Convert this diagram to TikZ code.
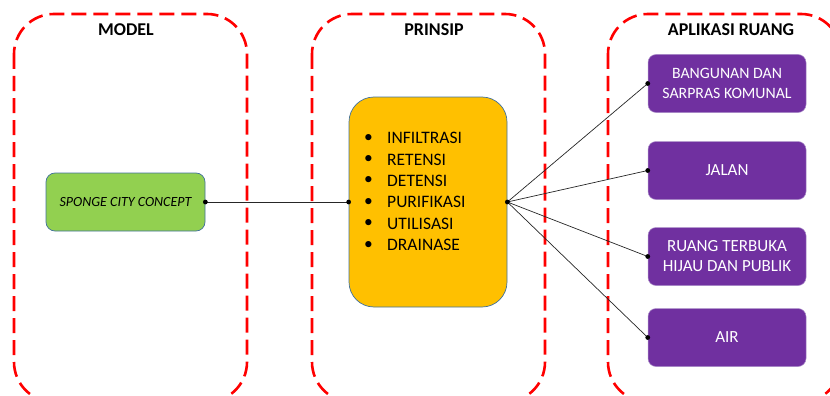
\documentclass[tikz,border=0pt]{standalone}
\usepackage{fontspec}
\setmainfont{Carlito}
\definecolor{zoneRed}{RGB}{255,0,0}
\definecolor{modelGreen}{RGB}{146,208,80}
\definecolor{prinOrange}{RGB}{255,192,0}
\definecolor{appPurple}{RGB}{112,48,160}
\definecolor{edgeBlue}{RGB}{65,113,156}
\definecolor{edgeLilac}{RGB}{170,140,200}
\begin{document}
\begin{tikzpicture}[x=1pt,y=-1pt,
  zone/.style={draw=zoneRed,line width=2.6pt,dash pattern=on 15pt off 7pt,rounded corners=40pt},
  zonetitle/.style={font=\fontsize{18}{21}\selectfont\bfseries,text=black},
  modelbox/.style={draw=edgeBlue,line width=0.7pt,fill=modelGreen,rounded corners=9pt,
    minimum width=159pt,minimum height=58pt,inner sep=0pt,
    font=\fontsize{14}{16}\selectfont\itshape},
  prinbox/.style={draw=edgeBlue,line width=0.7pt,fill=prinOrange,rounded corners=25pt,
    minimum width=158pt,minimum height=210pt,inner sep=0pt},
  prinitem/.style={anchor=west,font=\fontsize{17.5}{20}\selectfont,inner sep=0pt},
  appbox/.style={draw=edgeLilac,line width=0.5pt,fill=appPurple,rounded corners=8pt,
    minimum width=158pt,minimum height=58pt,inner sep=0pt,align=center,text=white,
    font=\fontsize{17}{20}\selectfont},
  smallapp/.style={font=\fontsize{15.8}{20}\selectfont},
  link/.style={draw=black!85,line width=0.7pt},
  joint/.style={fill=black}
]
\useasboundingbox (0,0) rectangle (830,396);
\clip (0,0) rectangle (830,396);

% dashed zones
\draw[zone] (14,14) rectangle (247,402);
\draw[zone] (312,14) rectangle (545,402);
\draw[zone] (608,14) rectangle (841,402);

% zone titles
\node[zonetitle] (tModel) at (126,30) {MODEL};
\node[zonetitle] (tPrinsip) at (434,30) {PRINSIP};
\node[zonetitle] (tApp) at (731,30) {APLIKASI RUANG};

% model
\node[modelbox] (model) at (125.5,202) {SPONGE CITY CONCEPT};

% principles
\node[prinbox] (prin) at (428,202) {};
\foreach \t [count=\i] in {INFILTRASI,RETENSI,DETENSI,PURIFIKASI,UTILISASI,DRAINASE}{
  \node[prinitem] (b\i) at (364,{138+21.4*(\i-1)}) {\textbullet};
  \node[prinitem] (p\i) at (387,{138+21.4*(\i-1)}) {\t};
}

% applications
\node[appbox,smallapp] (a1) at (727,83.5) {BANGUNAN DAN\\SARPRAS KOMUNAL};
\node[appbox] (a2) at (727,170.5) {JALAN};
\node[appbox] (a3) at (727,256.5) {RUANG TERBUKA\\HIJAU DAN PUBLIK};
\node[appbox] (a4) at (727,337.5) {AIR};

% connectors
\draw[link] (model.east) -- (prin.west);
\foreach \k in {1,...,4}{
  \draw[link] (prin.east) -- (a\k.west);
  \fill[joint] (a\k.west) circle (2.4pt);
}
\fill[joint] (model.east) circle (2.4pt);
\fill[joint] (prin.west) circle (2.4pt);
\fill[joint] (prin.east) circle (2.4pt);
\end{tikzpicture}
\end{document}
